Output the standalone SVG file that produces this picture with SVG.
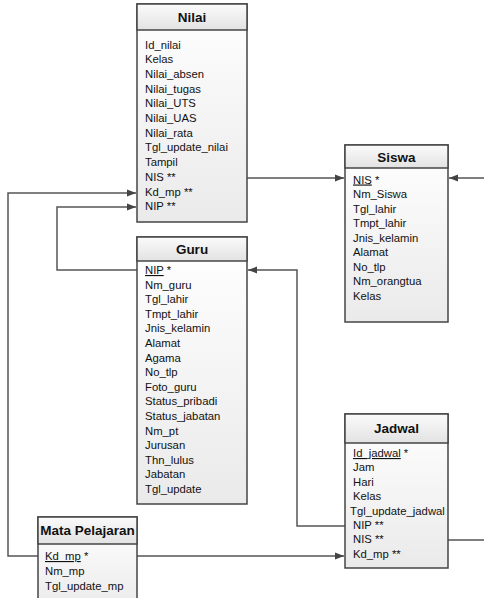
<svg xmlns="http://www.w3.org/2000/svg" width="484" height="598" viewBox="0 0 484 598">
<style>
.box{stroke:#454545;stroke-width:1.5;fill:url(#bodyG)}
.hdr{stroke:#454545;stroke-width:1.5;fill:url(#hdrG)}
.t{font-family:"Liberation Sans",Arial,sans-serif;font-size:11.3px;fill:#111}
.h{font-family:"Liberation Sans",Arial,sans-serif;font-size:13.5px;font-weight:bold;fill:#111;text-anchor:middle}
.u{text-decoration:underline}
.c{fill:none;stroke:#555;stroke-width:1.5}
</style>
<defs>
<linearGradient id="bodyG" x1="0" y1="0" x2="0" y2="1">
<stop offset="0" stop-color="#ffffff"/>
<stop offset="1" stop-color="#eaeaea"/>
</linearGradient>
<linearGradient id="hdrG" x1="0" y1="0" x2="0" y2="1">
<stop offset="0" stop-color="#fbfbfb"/>
<stop offset="1" stop-color="#e2e2e2"/>
</linearGradient>
<marker id="arr" markerWidth="10" markerHeight="8" refX="9" refY="4" orient="auto" markerUnits="userSpaceOnUse">
<path d="M0,0.5 L9,4 L0,7.5 Z" fill="#444"/>
</marker>
</defs>
<rect width="484" height="598" fill="#ffffff"/>

<g id="connectors">
<path class="c" d="M247,178 H344" marker-end="url(#arr)"/>
<path class="c" d="M484,178 H449" marker-end="url(#arr)"/>
<path class="c" d="M448,540 H484"/>
<path class="c" d="M345,526 H297 V270 H248" marker-end="url(#arr)"/>
<path class="c" d="M137,556 H344" marker-end="url(#arr)"/>
<path class="c" d="M38,556 H8 V193 H136" marker-end="url(#arr)"/>
<path class="c" d="M137,270 H57 V207 H136" marker-end="url(#arr)"/>
</g>

<g id="nilai">
<rect class="box" x="137" y="4" width="110" height="218"/>
<rect class="hdr" x="137" y="4" width="110" height="26"/>
<text class="h" x="192" y="22">Nilai</text>
<text class="t" x="145" y="48.5">Id_nilai</text>
<text class="t" x="145" y="63.2">Kelas</text>
<text class="t" x="145" y="77.9">Nilai_absen</text>
<text class="t" x="145" y="92.6">Nilai_tugas</text>
<text class="t" x="145" y="107.3">Nilai_UTS</text>
<text class="t" x="145" y="122">Nilai_UAS</text>
<text class="t" x="145" y="136.7">Nilai_rata</text>
<text class="t" x="145" y="151.4">Tgl_update_nilai</text>
<text class="t" x="145" y="166.1">Tampil</text>
<text class="t" x="145" y="180.8">NIS **</text>
<text class="t" x="145" y="195.5">Kd_mp **</text>
<text class="t" x="145" y="210.2">NIP **</text>
</g>

<g id="siswa">
<rect class="box" x="345" y="145" width="103" height="177"/>
<rect class="hdr" x="345" y="145" width="103" height="23"/>
<text class="h" x="396.5" y="161.5">Siswa</text>
<text class="t" x="353" y="183.5"><tspan class="u">NIS</tspan> *</text>
<text class="t" x="353" y="198">Nm_Siswa</text>
<text class="t" x="353" y="212.5">Tgl_lahir</text>
<text class="t" x="353" y="227">Tmpt_lahir</text>
<text class="t" x="353" y="241.5">Jnis_kelamin</text>
<text class="t" x="353" y="256">Alamat</text>
<text class="t" x="353" y="270.5">No_tlp</text>
<text class="t" x="353" y="285">Nm_orangtua</text>
<text class="t" x="353" y="299.5">Kelas</text>
</g>

<g id="guru">
<rect class="box" x="137" y="237" width="110" height="267"/>
<rect class="hdr" x="137" y="237" width="110" height="24"/>
<text class="h" x="192" y="254">Guru</text>
<text class="t" x="145" y="274"><tspan class="u">NIP</tspan> *</text>
<text class="t" x="145" y="288.6">Nm_guru</text>
<text class="t" x="145" y="303.2">Tgl_lahir</text>
<text class="t" x="145" y="317.8">Tmpt_lahir</text>
<text class="t" x="145" y="332.4">Jnis_kelamin</text>
<text class="t" x="145" y="347">Alamat</text>
<text class="t" x="145" y="361.6">Agama</text>
<text class="t" x="145" y="376.2">No_tlp</text>
<text class="t" x="145" y="390.8">Foto_guru</text>
<text class="t" x="145" y="405.4">Status_pribadi</text>
<text class="t" x="145" y="420">Status_jabatan</text>
<text class="t" x="145" y="434.6">Nm_pt</text>
<text class="t" x="145" y="449.2">Jurusan</text>
<text class="t" x="145" y="463.8">Thn_lulus</text>
<text class="t" x="145" y="478.4">Jabatan</text>
<text class="t" x="145" y="493">Tgl_update</text>
</g>

<g id="jadwal">
<rect class="box" x="345" y="414" width="103" height="154"/>
<rect class="hdr" x="345" y="414" width="103" height="29"/>
<text class="h" x="396.5" y="433">Jadwal</text>
<text class="t" x="353" y="457"><tspan class="u">Id_jadwal</tspan> *</text>
<text class="t" x="353" y="471.4">Jam</text>
<text class="t" x="353" y="485.8">Hari</text>
<text class="t" x="353" y="500.2">Kelas</text>
<text class="t" x="350" y="514.6">Tgl_update_jadwal</text>
<text class="t" x="353" y="529">NIP **</text>
<text class="t" x="353" y="543.4">NIS **</text>
<text class="t" x="353" y="557.8">Kd_mp **</text>
</g>

<g id="mata_pelajaran">
<rect class="box" x="38" y="517" width="99" height="95"/>
<rect class="hdr" x="38" y="517" width="99" height="27"/>
<text class="h" x="87.5" y="535">Mata Pelajaran</text>
<text class="t" x="45" y="560"><tspan class="u">Kd_mp</tspan> *</text>
<text class="t" x="45" y="574.8">Nm_mp</text>
<text class="t" x="45" y="589.5">Tgl_update_mp</text>
</g>
</svg>
